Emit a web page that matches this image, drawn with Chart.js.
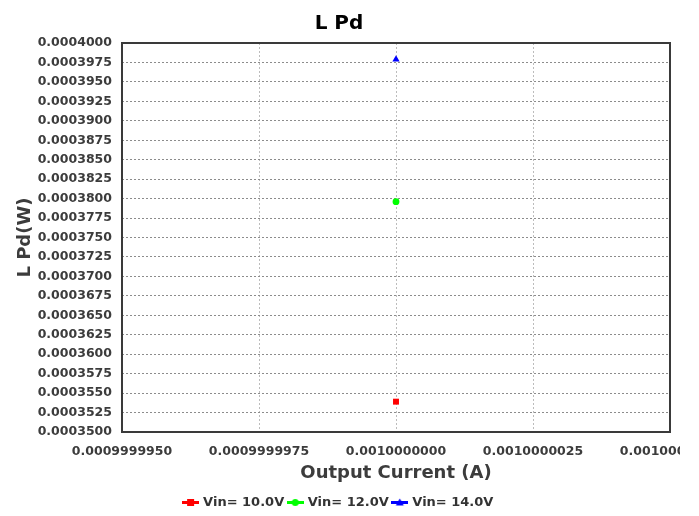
<!DOCTYPE html>
<html>
<head>
<meta charset="utf-8">
<script src="https://cdn.jsdelivr.net/npm/chart.js@4"></script>
<style>
  html, body { margin: 0; padding: 0; background: #fff; }
  #wrap { width: 699px; height: 516px; overflow: hidden; }
</style>
</head>
<body>
<div id="wrap"><canvas id="chart" width="680" height="519"></canvas></div>
<script>
const seriesNames = ['Vin= 10.0V', 'Vin= 12.0V', 'Vin= 14.0V'];
const seriesColors = ['#ff0000', '#00ff00', '#0000ff'];
const seriesMarkers = ['rect', 'circle', 'triangle'];
const outputCurrent = [0.001];
const pdVin10 = [0.0003539];
const pdVin12 = [0.0003796];
const pdVin14 = [0.0003979];
const xTickValues = [0.000999995, 0.0009999975, 0.001, 0.0010000025, 0.001000005];
const yTickValues = [
  0.00035, 0.0003525, 0.000355, 0.0003575, 0.00036, 0.0003625, 0.000365,
  0.0003675, 0.00037, 0.0003725, 0.000375, 0.0003775, 0.00038, 0.0003825,
  0.000385, 0.0003875, 0.00039, 0.0003925, 0.000395, 0.0003975, 0.0004
];

Chart.defaults.font.family = "'DejaVu Sans', sans-serif";

function legendIcon(color, marker) {
  const c = document.createElement('canvas');
  c.width = 17;
  c.height = 9;
  const ctx = c.getContext('2d');
  ctx.fillStyle = color;
  ctx.fillRect(0, 3, 17, 3);
  if (marker === 'rect') {
    ctx.fillRect(5, 1, 7, 7);
  } else if (marker === 'circle') {
    ctx.beginPath();
    ctx.arc(8.5, 4.5, 3.5, 0, Math.PI * 2);
    ctx.fill();
  } else {
    ctx.beginPath();
    ctx.moveTo(8.5, 0.5);
    ctx.lineTo(12.5, 7.5);
    ctx.lineTo(4.5, 7.5);
    ctx.closePath();
    ctx.fill();
  }
  return c;
}

const icons = seriesColors.map((col, i) => legendIcon(col, seriesMarkers[i]));

const plotFrame = {
  id: 'plotFrame',
  beforeDatasetsDraw(chart) {
    const {ctx, chartArea: a} = chart;
    ctx.save();
    ctx.strokeStyle = '#3a3a3a';
    ctx.lineWidth = 2;
    ctx.strokeRect(a.left, a.top, a.right - a.left, a.bottom - a.top);
    ctx.restore();
  }
};

const values = [pdVin10, pdVin12, pdVin14];

new Chart(document.getElementById('chart').getContext('2d'), {
  type: 'scatter',
  data: {
    datasets: seriesNames.map((name, i) => ({
      label: name,
      data: outputCurrent.map((x, k) => ({x, y: values[i][k]})),
      backgroundColor: seriesColors[i],
      borderColor: seriesColors[i],
      pointStyle: seriesMarkers[i],
      pointRadius: seriesMarkers[i] === 'circle' ? 3.4 : 4.2,
      borderWidth: 0
    }))
  },
  options: {
    responsive: false,
    animation: false,
    layout: {
      padding: {top: 6, right: 10, bottom: 0, left: 8}
    },
    scales: {
      x: {
        type: 'linear',
        min: xTickValues[0],
        max: xTickValues[xTickValues.length - 1],
        afterBuildTicks: s => { s.ticks = xTickValues.map(v => ({value: v})); },
        afterFit: s => {
          s.height = 59;
          s.paddingRight = 0; // let the last label run off the edge
        },
        grid: {color: '#bcbcbc', drawTicks: false},
        border: {display: false, dash: [2, 2]},
        ticks: {
          autoSkip: false,
          maxRotation: 0,
          padding: 12,
          color: '#3c3c3c',
          font: {size: 12.5, weight: 'bold'},
          callback: v => v.toFixed(10)
        },
        title: {
          display: true,
          text: 'Output Current (A)',
          color: '#3c3c3c',
          font: {size: 18, weight: 'bold'},
          padding: {top: 0, bottom: 7}
        }
      },
      y: {
        min: yTickValues[0],
        max: yTickValues[yTickValues.length - 1],
        afterBuildTicks: s => { s.ticks = yTickValues.map(v => ({value: v})); },
        afterFit: s => { s.width = 114; },
        grid: {color: '#8c8c8c', drawTicks: false},
        border: {display: false, dash: [2, 2]},
        ticks: {
          autoSkip: false,
          padding: 10,
          color: '#3c3c3c',
          font: {size: 12.5, weight: 'bold'},
          callback: v => v.toFixed(7)
        },
        title: {
          display: true,
          text: 'L Pd(W)',
          color: '#3c3c3c',
          font: {size: 18, weight: 'bold'},
          padding: {top: 7, bottom: 0}
        }
      }
    },
    plugins: {
      title: {
        display: true,
        text: 'L Pd',
        color: '#000',
        font: {size: 20, weight: 'bold'},
        padding: {top: 6, bottom: 7}
      },
      legend: {
        position: 'bottom',
        labels: {
          usePointStyle: true,
          pointStyleWidth: 12,
          padding: 5,
          color: '#333',
          font: {size: 13, weight: 'bold'},
          generateLabels: chart => chart.data.datasets.map((ds, i) => ({
            text: ds.label,
            pointStyle: icons[i],
            fillStyle: ds.backgroundColor,
            strokeStyle: ds.borderColor,
            lineWidth: 0,
            hidden: false,
            datasetIndex: i,
            fontColor: '#333'
          }))
        }
      },
      tooltip: {enabled: false}
    }
  },
  plugins: [plotFrame]
});
</script>
</body>
</html>
